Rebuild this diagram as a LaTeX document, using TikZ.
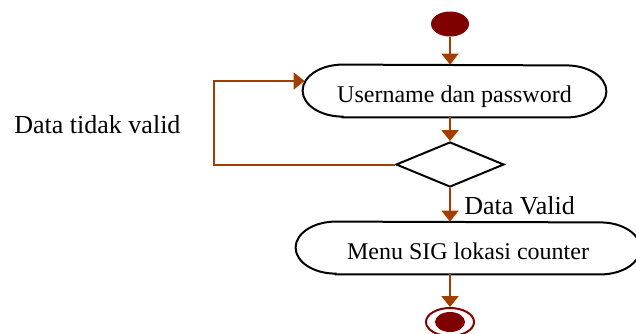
\documentclass[tikz,border=0pt]{standalone}
\usepackage{fontspec}
\setmainfont{Liberation Serif}
\usetikzlibrary{arrows.meta,shapes.geometric}
\definecolor{flowbrown}{RGB}{163,62,0}
\definecolor{nodered}{RGB}{128,0,0}
% outline of an action node: straight top and bottom, elliptical ends
\newcommand\capsuleoutline[3]{%
  \draw[outline] ([xshift=#2]#1.south west) -- ([xshift=-#2]#1.south east)
    arc[start angle=-90,end angle=90,x radius=#2,y radius=#3]
    -- ([xshift=#2]#1.north west)
    arc[start angle=90,end angle=270,x radius=#2,y radius=#3] -- cycle;}
\begin{document}
\begin{tikzpicture}[x=0.5pt,y=0.5pt,
  flow/.style={draw=flowbrown,line width=1pt,-{Triangle[length=5.5pt,width=8.5pt]}},
  capsule/.style={rectangle,inner sep=0pt,font=\fontsize{12}{14}\selectfont,
    text height=11pt,text depth=0pt,minimum height=26pt},
  outline/.style={draw=black,line width=1pt},
  decision/.style={diamond,draw=black,line width=1pt,inner sep=0pt,
    minimum width=54pt,minimum height=22.5pt},
  guard/.style={font=\fontsize{13}{15}\selectfont,inner sep=0pt,anchor=base west}]
\useasboundingbox (0,0) rectangle (636,-333);
\clip (0,0) rectangle (636,-333);

% initial and final states
\node[ellipse,fill=nodered,inner sep=0pt,minimum width=19pt,minimum height=12.5pt] (start) at (450,-24) {};
\node[ellipse,draw=nodered,line width=1pt,inner sep=0pt,minimum width=24pt,minimum height=14pt] (stop) at (450,-322) {};
\node[ellipse,fill=nodered,inner sep=0pt,minimum width=15pt,minimum height=10pt] (stopdot) at (stop.center) {};

% actions
\node[capsule,minimum width=151.5pt] (user) at (454.5,-91) {Username dan password};
\capsuleoutline{user}{20pt}{13pt}
\node[capsule,minimum width=172pt] (menu) at (468,-248) {Menu SIG lokasi counter};
\capsuleoutline{menu}{20pt}{13pt}

% decision
\node[decision] (check) at (450,-164.5) {};

% flows
\draw[flow] (start) -- (start |- user.north);
\draw[flow] (user.south -| check.north) -- (check.north);
\draw[flow] (check.south) -- (check.south |- menu.north);
\draw[flow] (menu.south -| stop.north) -- (stop.north);
\coordinate (loop) at (214,-81);
\draw[flow] (check.west) -| (loop) -- ([xshift=1pt,yshift=5pt]user.west);

% guards
\node[guard] (invalid) at (14,-133) {Data tidak valid};
\node[guard] (valid) at (464,-214) {Data Valid};
\end{tikzpicture}
\end{document}
